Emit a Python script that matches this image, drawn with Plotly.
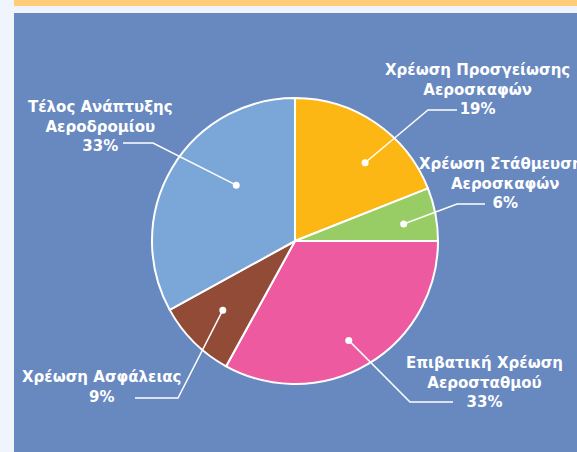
import math
import plotly.graph_objects as go

# slice data (clockwise from 12 o'clock)
labels = ["Χρέωση Προσγείωσης<br>Αεροσκαφών", "Χρέωση Στάθμευσης<br>Αεροσκαφών",
          "Επιβατική Χρέωση<br>Αεροσταθμού", "Χρέωση Ασφάλειας",
          "Τέλος Ανάπτυξης<br>Αεροδρομίου"]
values = [19, 6, 33, 9, 33]
colors = ["#FCB714", "#98CC65", "#EE5AA0", "#914B37", "#7AA6D8"]

W, H = 577, 452
CX, CY, R = 295, 241, 143

# connector/label layout per slice: dot (angle shift from slice middle, radius),
# elbow offset from centre, horizontal run, label centre
dot_shift = [7.7, 1.9, 2.2, 1.2, 12.9]
dot_r = [105, 110, 113, 100, 81]
elbow = [(133, -131), (162, -37), (115, 161), (-117, 157), (-142, -98)]
run = [29, 28, 43, -43, -30]
label_pos = [(477, 89), (505, 183), (484, 382), (102, 387), (100, 126)]

fig = go.Figure()

fig.add_trace(go.Pie(
    labels=labels, values=values, sort=False, direction="clockwise",
    marker=dict(colors=colors, line=dict(color="white", width=2)),
    textinfo="none", hoverinfo="label+percent", showlegend=False,
    domain=dict(x=[(CX - R) / W, (CX + R) / W],
                y=[(H - CY - R) / H, (H - CY + R) / H]),
))

shapes = [
    dict(type="rect", xref="x", yref="y", x0=14, x1=W, y0=0, y1=6,
         fillcolor="#FFCD78", line=dict(width=0), layer="below"),
    dict(type="rect", xref="x", yref="y", x0=14, x1=W, y0=13, y1=H,
         fillcolor="#6888C0", line=dict(width=0), layer="below"),
]

total = sum(values)
cum = 0
for i, v in enumerate(values):
    mid = (cum + v / 2) / total * 360
    cum += v
    a = math.radians(mid + dot_shift[i])
    dx, dy = CX + dot_r[i] * math.sin(a), CY - dot_r[i] * math.cos(a)
    ex, ey = CX + elbow[i][0], CY + elbow[i][1]
    # connectors as shapes so they sit above the pie
    shapes.append(dict(
        type="path", xref="x", yref="y", layer="above",
        path="M %.1f,%.1f L %.1f,%.1f L %.1f,%.1f" % (dx, dy, ex, ey, ex + run[i], ey),
        line=dict(color="white", width=1.5)))
    shapes.append(dict(
        type="circle", xref="x", yref="y", layer="above",
        x0=dx - 3.5, x1=dx + 3.5, y0=dy - 3.5, y1=dy + 3.5,
        fillcolor="white", line=dict(width=0)))
    pct = round(v / total * 100)
    fig.add_annotation(
        x=label_pos[i][0], y=label_pos[i][1], xref="x", yref="y",
        text="<b>%s<br>%d%%</b>" % (labels[i], pct), showarrow=False,
        xanchor="center", yanchor="middle", align="center",
        font=dict(family="DejaVu Sans", size=15, color="white"))

fig.update_layout(
    width=W, height=H, margin=dict(l=0, r=0, t=0, b=0),
    paper_bgcolor="#F0F4FC", plot_bgcolor="rgba(0,0,0,0)",
    xaxis=dict(range=[0, W], visible=False, fixedrange=True),
    yaxis=dict(range=[H, 0], visible=False, fixedrange=True),
    shapes=shapes,
)

# page has a default 8px body margin; drop it so the figure sits at 0,0
fig.write_html("out.html", config={"displayModeBar": False},
               post_script="document.body.style.margin='0';")
